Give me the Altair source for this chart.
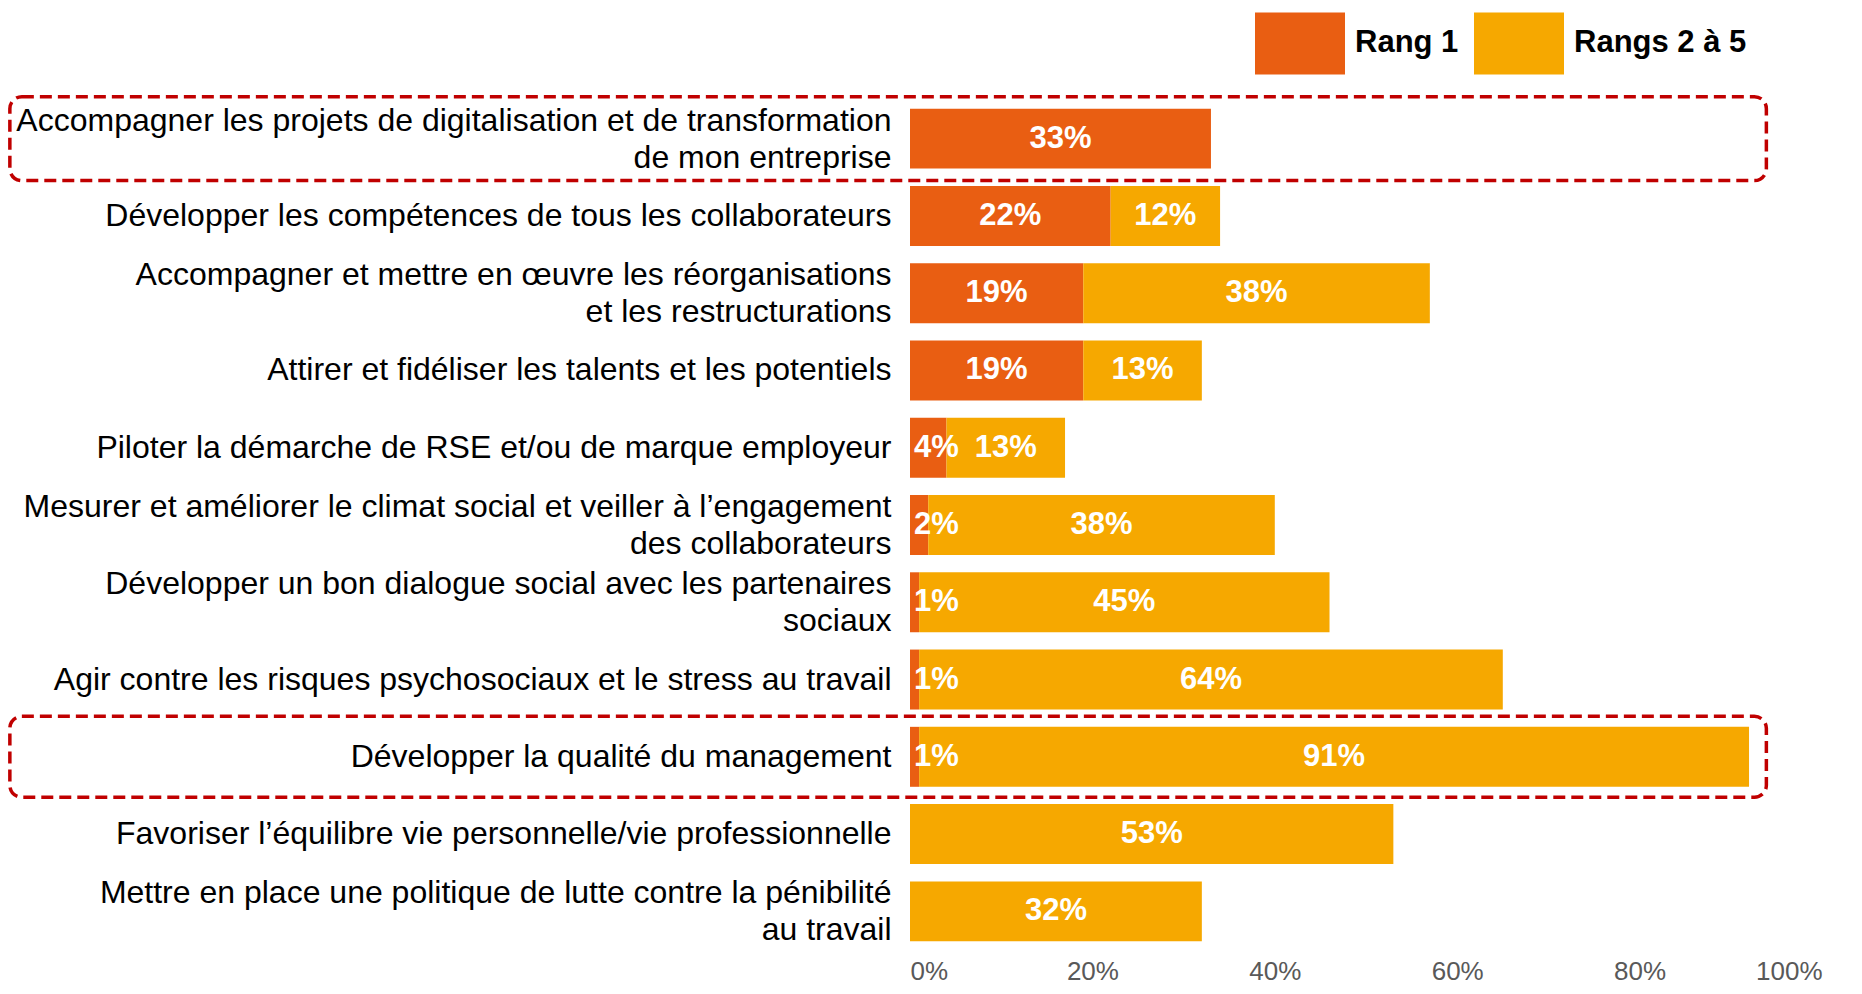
import altair as alt
import pandas as pd

FONT = "Liberation Sans"

categories = [
    "Accompagner les projets de digitalisation et de transformation\nde mon entreprise",
    "Développer les compétences de tous les collaborateurs",
    "Accompagner et mettre en œuvre les réorganisations\net les restructurations",
    "Attirer et fidéliser les talents et les potentiels",
    "Piloter la démarche de RSE et/ou de marque employeur",
    "Mesurer et améliorer le climat social et veiller à l’engagement\ndes collaborateurs",
    "Développer un bon dialogue social avec les partenaires\nsociaux",
    "Agir contre les risques psychosociaux et le stress au travail",
    "Développer la qualité du management",
    "Favoriser l’équilibre vie personnelle/vie professionnelle",
    "Mettre en place une politique de lutte contre la pénibilité\nau travail",
]
rang1 = [33, 22, 19, 19, 4, 2, 1, 1, 1, 0, 0]
rangs2_5 = [0, 12, 38, 13, 13, 38, 45, 64, 91, 53, 32]
series_names = ["Rang 1", "Rangs 2 à 5"]
series_colors = ["#E95E12", "#F6A800"]
tick_values = [0, 20, 40, 60, 80, 100]
highlighted = [categories[0], categories[8]]

# annotation extent of the dashed frames, in axis units (%)
BOX_LEFT = -98.7
BOX_RIGHT = 93.9

rows = []
for i, c in enumerate(categories):
    start = 0
    for s, vals in zip(series_names, [rang1, rangs2_5]):
        v = vals[i]
        if v > 0:
            rows.append(dict(cat=c, series=s, value=v, start=start, end=start + v,
                             mid=start + v / 2, label=f"{v}%",
                             small=bool(s == "Rang 1" and v < 5)))
        start += v
df = pd.DataFrame(rows)

boxes = pd.DataFrame({"cat": highlighted, "x0": [BOX_LEFT] * 2, "x1": [BOX_RIGHT] * 2})

y_enc = alt.Y(
    "cat:N", sort=categories,
    scale=alt.Scale(domain=categories, paddingInner=0.224, paddingOuter=0.112),
    axis=alt.Axis(title=None, labelExpr="split(datum.label, '\\n')", labelFontSize=32,
                  labelColor="black", labelFont=FONT, labelLimit=0, labelPadding=19,
                  ticks=False, domain=False, labelLineHeight=37, grid=False,
                  labelOffset={"condition": {"test": "indexof(datum.label, '\\n') >= 0",
                                             "value": -18},
                               "value": 0}),
)
x_scale = alt.Scale(domain=[0, 100], nice=False)
x_axis = alt.Axis(title=None, values=tick_values, labelExpr="datum.value + '%'",
                  grid=False, ticks=False, domain=False, labelColor="#595959",
                  labelFontSize=26, labelFont=FONT, labelPadding=8)

bars = alt.Chart(df).mark_bar().encode(
    x=alt.X("start:Q", scale=x_scale, axis=x_axis),
    x2="end:Q",
    y=y_enc,
    color=alt.Color(
        "series:N",
        scale=alt.Scale(domain=series_names, range=series_colors),
        legend=alt.Legend(orient="none", legendX=345, legendY=-102, direction="horizontal",
                          title=None, symbolType="M-1,-0.69H1V0.69H-1Z", symbolSize=8100,
                          labelFontSize=31, labelFontWeight="bold", labelFont=FONT,
                          labelColor="black", labelOffset=10, columnPadding=15,
                          symbolStrokeWidth=0, symbolOpacity=1, padding=0, labelLimit=0),
    ),
)

labels_center = alt.Chart(df).transform_filter("!datum.small").mark_text(
    color="white", fontSize=31, fontWeight="bold", font=FONT, baseline="middle", align="center"
).encode(x=alt.X("mid:Q", scale=x_scale), y=alt.Y("cat:N", sort=categories), text="label:N")

labels_left = alt.Chart(df).transform_filter("datum.small").mark_text(
    color="white", fontSize=31, fontWeight="bold", font=FONT, baseline="middle", align="left", dx=4
).encode(x=alt.X("start:Q", scale=x_scale), y=alt.Y("cat:N", sort=categories), text="label:N")

box1 = alt.Chart(boxes).transform_filter(alt.datum.cat == highlighted[0]).mark_bar(
    filled=False, stroke="#C00000", strokeWidth=3.5, strokeDash=[12, 6], cornerRadius=12,
    height={"band": 1.4}
).encode(x=alt.X("x0:Q", scale=x_scale), x2="x1:Q", y=alt.Y("cat:N", sort=categories))

box2 = alt.Chart(boxes).transform_filter(alt.datum.cat == highlighted[1]).mark_bar(
    filled=False, stroke="#C00000", strokeWidth=3.5, strokeDash=[12, 6], cornerRadius=12,
    height={"band": 1.35}
).encode(x=alt.X("x0:Q", scale=x_scale), x2="x1:Q", y=alt.Y("cat:N", sort=categories))

chart = alt.layer(box1, box2, bars, labels_center, labels_left).properties(
    width=912, height=850,
    autosize=alt.AutoSizeParams(type="none"),
    padding={"left": 902, "top": 92, "right": 26, "bottom": 36},
).configure_view(stroke=None)

chart.save("out.html", embed_options={"renderer": "svg", "actions": False})
